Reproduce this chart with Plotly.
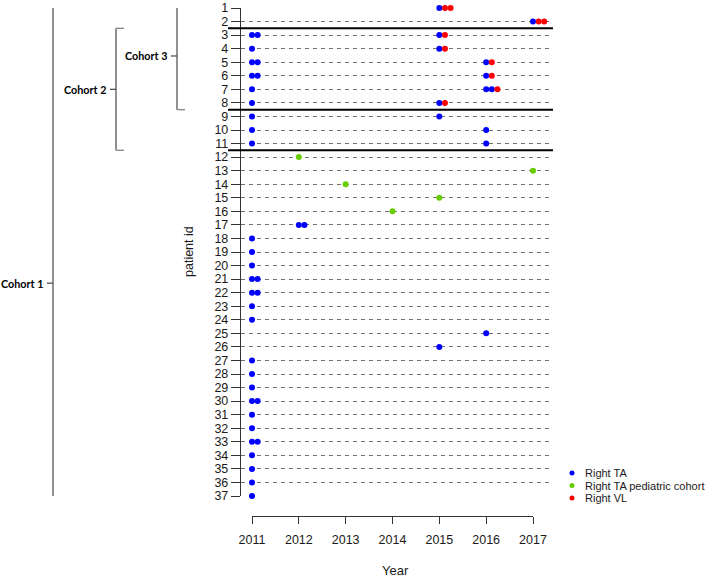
import plotly.graph_objects as go

W, H = 708, 580

# ---------------- data ----------------
years = [2011, 2012, 2013, 2014, 2015, 2016, 2017]
patient_ids = list(range(1, 38))

# Right TA (blue)
ta_x = [2015,
        2017,
        2011, 2011.12, 2015,
        2011, 2015,
        2011, 2011.12, 2016,
        2011, 2011.12, 2016,
        2011, 2016, 2016.12,
        2011, 2015,
        2011, 2015,
        2011, 2016,
        2011, 2016,
        2012, 2012.12,
        2011, 2011, 2011,
        2011, 2011.12,
        2011, 2011.12,
        2011, 2011,
        2016,
        2015,
        2011, 2011, 2011,
        2011, 2011.12,
        2011, 2011,
        2011, 2011.12,
        2011, 2011, 2011, 2011]
ta_y = [1,
        2,
        3, 3, 3,
        4, 4,
        5, 5, 5,
        6, 6, 6,
        7, 7, 7,
        8, 8,
        9, 9,
        10, 10,
        11, 11,
        17, 17,
        18, 19, 20,
        21, 21,
        22, 22,
        23, 24,
        25,
        26,
        27, 28, 29,
        30, 30,
        31, 32,
        33, 33,
        34, 35, 36, 37]

# Right TA pediatric cohort (green)
ped_x = [2012, 2017, 2013, 2015, 2014]
ped_y = [12, 13, 14, 15, 16]

# Right VL (red)
vl_x = [2015.12, 2015.24, 2017.12, 2017.24, 2015.12, 2015.12, 2016.12, 2016.12, 2016.24, 2015.12]
vl_y = [1, 1, 2, 2, 3, 4, 5, 6, 7, 8]

series_names = ["Right TA", "Right TA pediatric cohort", "Right VL"]
series_colors = ["#0000FF", "#66CD00", "#FF0000"]

# cohort brackets: name, top row, bottom row, label row
cohort_names = ["Cohort 1", "Cohort 2", "Cohort 3"]
cohort_top = [0.63, 2.5, 0.56]
cohort_bottom = [37.74, 11.5, 8.5]
cohort_label_row = [21.3, 7.0, 4.54]
separator_after = [2, 8, 11]

# ---------------- helpers ----------------
def fx(px):
    return px / W

def fy(py):
    return 1 - py / H

PX_PER_YEAR = (533 - 252) / 6.0
x_lo = 2011 - (252 - 240.8) / PX_PER_YEAR
x_hi = 2011 + (550 - 252) / PX_PER_YEAR

TEXT = "#1a1a1a"
AX = "#333333"
FONT = "Liberation Sans, Arial, sans-serif"

fig = go.Figure()
for xs, ys, nm, col in [(ta_x, ta_y, series_names[0], series_colors[0]),
                        (ped_x, ped_y, series_names[1], series_colors[1]),
                        (vl_x, vl_y, series_names[2], series_colors[2])]:
    fig.add_trace(go.Scatter(x=xs, y=ys, mode="markers", name=nm,
                             marker=dict(color=col, size=6, line=dict(width=0)),
                             cliponaxis=False, showlegend=False))

# empty trace for the year axis subplot
fig.add_trace(go.Scatter(x=[], y=[], xaxis="x2", yaxis="y2", showlegend=False, hoverinfo="skip"))

shapes = []
# separators
for r in separator_after:
    shapes.append(dict(type="line", xref="paper", yref="y", x0=fx(228), x1=fx(553),
                       y0=r + 0.5, y1=r + 0.5, line=dict(color="black", width=2)))

# brackets
bracket_px = [53, 116, 177]
annotations = []
for nm, top, bot, lab, bx in zip(cohort_names, cohort_top, cohort_bottom, cohort_label_row, bracket_px):
    bc = "#555555"
    shapes.append(dict(type="line", xref="paper", yref="y", x0=fx(bx), x1=fx(bx), y0=top, y1=bot,
                       line=dict(color=bc, width=1.3)))
    shapes.append(dict(type="line", xref="paper", yref="y", x0=fx(bx), x1=fx(bx + 8), y0=top, y1=top,
                       line=dict(color="#888888", width=1.3)))
    shapes.append(dict(type="line", xref="paper", yref="y", x0=fx(bx), x1=fx(bx + 8), y0=bot, y1=bot,
                       line=dict(color="#888888", width=1.3)))
    shapes.append(dict(type="line", xref="paper", yref="y", x0=fx(bx - 6), x1=fx(bx), y0=lab, y1=lab,
                       line=dict(color=bc, width=1.3)))
    annotations.append(dict(text="<b>%s</b>" % nm, xref="paper", yref="y", x=fx(bx - 9), y=lab,
                            xanchor="right", yanchor="middle", showarrow=False, borderpad=0,
                            font=dict(family="Lato, sans-serif", size=10.8, color="black")))

# legend (manual, compact like the reference)
leg_y = [473, 485.5, 498]
for nm, col, py in zip(series_names, series_colors, leg_y):
    shapes.append(dict(type="circle", xref="paper", yref="paper",
                       x0=fx(569.5), x1=fx(574.5), y0=fy(py + 2.5), y1=fy(py - 2.5),
                       fillcolor=col, line=dict(width=0)))
    annotations.append(dict(text=nm, xref="paper", yref="paper", x=fx(583), y=fy(py),
                            xanchor="left", yanchor="middle", showarrow=False,
                            font=dict(family=FONT, size=11, color=TEXT)))

# axis titles
annotations.append(dict(text="patient id", xref="paper", yref="paper", x=fx(189), y=fy(252),
                        textangle=-90, xanchor="center", yanchor="middle", showarrow=False,
                        font=dict(family=FONT, size=12.5, color=TEXT)))
annotations.append(dict(text="Year", xref="paper", yref="paper", x=fx(395), y=fy(570),
                        xanchor="center", yanchor="middle", showarrow=False,
                        font=dict(family=FONT, size=13, color=TEXT)))

fig.update_layout(
    width=W, height=H,
    margin=dict(l=0, r=0, t=0, b=0, pad=0),
    paper_bgcolor="white", plot_bgcolor="white",
    showlegend=False,
    xaxis=dict(domain=[fx(240.8), fx(550)], range=[x_lo, x_hi], visible=False, fixedrange=True),
    yaxis=dict(domain=[fy(496), fy(8)], range=[37, 1], tickmode="array",
               tickvals=patient_ids, ticktext=[str(p) for p in patient_ids],
               showline=True, linecolor=AX, linewidth=1, ticks="outside", ticklen=9,
               tickcolor=AX, tickwidth=1, showgrid=True, gridcolor="#707070", gridwidth=1,
               griddash="4px,4px", zeroline=False, automargin=False,
               tickfont=dict(family=FONT, size=12.5, color=TEXT), fixedrange=True),
    xaxis2=dict(domain=[fx(252), fx(533)], range=[2011, 2017], anchor="y2",
                tickmode="array", tickvals=years, ticktext=[str(y) for y in years],
                showline=True, linecolor=AX, linewidth=1, ticks="outside", ticklen=7,
                tickcolor=AX, tickwidth=1, showgrid=False, zeroline=False, automargin=False,
                ticklabelstandoff=5,
                tickfont=dict(family=FONT, size=12.5, color=TEXT), fixedrange=True),
    yaxis2=dict(domain=[fy(516), fy(512)], range=[0, 1], visible=False, anchor="x2", fixedrange=True),
    shapes=shapes,
    annotations=annotations,
)

fig.write_html("out.html", config={"displayModeBar": False},
               post_script="document.body.style.margin='0px';document.body.style.overflow='hidden';")
